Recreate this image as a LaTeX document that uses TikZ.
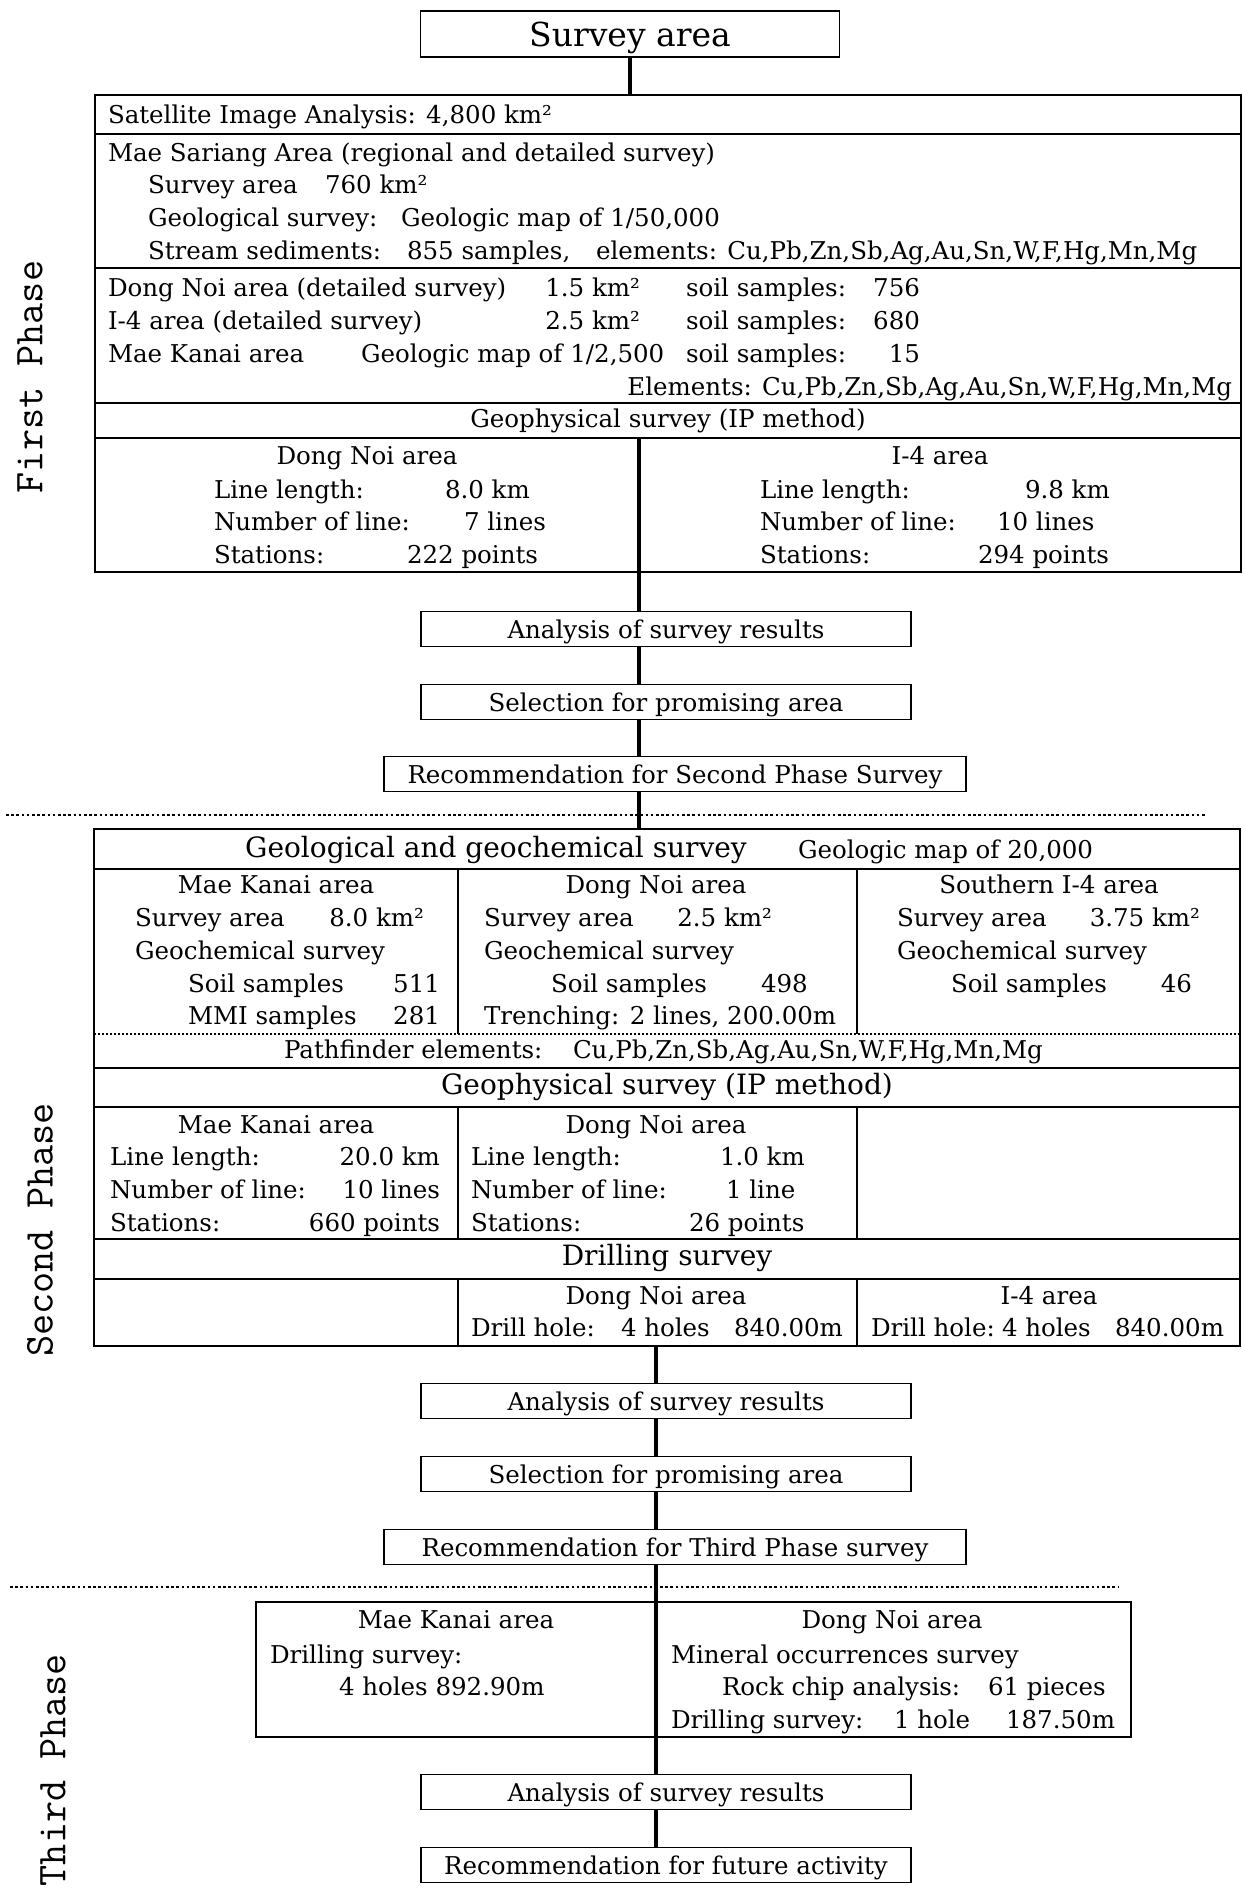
\documentclass[tikz,border=0pt]{standalone}
\usepackage{fontspec}
\setmainfont{DejaVu Serif}
\newcommand\txtfnt{\fontsize{24.5}{30}\selectfont}
\newcommand\hdfnt{\fontsize{28}{32}\selectfont}
\newcommand\bigfnt{\fontsize{33}{36}\selectfont}
\begin{document}
\begin{tikzpicture}[x=1pt,y=-1pt,
  frame/.style={draw, line width=1.8pt, inner sep=0pt, outer sep=0pt, anchor=north west},
  flow/.style={draw, line width=1.8pt, inner sep=0pt, outer sep=0pt, font=\txtfnt, text height=18pt, text depth=0pt, minimum width=490pt, minimum height=35pt},
  tx/.style={inner sep=0pt, outer sep=0pt, font=\txtfnt, anchor=mid west, yshift=-4pt},
  txc/.style={tx, anchor=mid},
  txe/.style={tx, anchor=mid east},
  hd/.style={inner sep=0pt, outer sep=0pt, font=\hdfnt, anchor=mid, yshift=-4pt},
  conn/.style={line width=3.4pt},
  sepl/.style={line width=1.6pt},
  coldiv/.style={line width=2pt},
  dotsep/.style={line width=1.4pt, dash pattern=on 2pt off 2pt},
  phasedots/.style={line width=2.6pt, dash pattern=on 2.6pt off 2.6pt},
  phase/.style={rotate=90, inner sep=0pt, outer sep=0pt, font=\ttfamily\fontsize{41}{41}\selectfont}
]
\useasboundingbox (0,0) rectangle (1245,1888);

% ---------- phase labels ----------
\node[phase] (ph1) at (30,377) {First Phase};
\node[phase] (ph2) at (40,1230) {Second Phase};
\node[phase] (ph3) at (53,1770) {Third Phase};

% ---------- top ----------
\node[draw, line width=1.8pt, inner sep=0pt, outer sep=0pt, minimum width=419pt, minimum height=46pt, text height=24pt, text depth=0pt, font=\bigfnt] (survey) at (630,34) {Survey area};

% ---------- first phase box ----------
\node[frame, minimum width=1146pt, minimum height=477pt] (box1) at (95,95) {};
\draw[sepl] (95,134) -- (1241,134);
\draw[sepl] (95,268) -- (1241,268);
\draw[sepl] (95,403) -- (1241,403);
\draw[sepl] (95,438) -- (1241,438);
\coordinate (k1) at (639,438);

\node[tx] (s1) at (108,117) {Satellite Image Analysis: 4,800 km²};
\node[tx] (s2) at (108,155) {Mae Sariang Area (regional and detailed survey)};
\node[tx] (s3a) at (148,187) {Survey area};
\node[tx] (s3b) at (325,187) {760 km²};
\node[tx] (s4a) at (148,220) {Geological survey:};
\node[tx] (s4b) at (401,220) {Geologic map of 1/50,000};
\node[tx] (s5a) at (148,253) {Stream sediments:};
\node[tx] (s5b) at (407,253) {855 samples,};
\node[tx] (s5c) at (596,253) {elements: Cu,Pb,Zn,Sb,Ag,Au,Sn,W,F,Hg,Mn,Mg};

\node[tx] (d1a) at (108,290) {Dong Noi area (detailed survey)};
\node[txe] (d1b) at (640,290) {1.5 km²};
\node[tx] (d1c) at (686,290) {soil samples:};
\node[txe] (d1d) at (920,290) {756};
\node[tx] (d2a) at (108,323) {I-4 area (detailed survey)};
\node[txe] (d2b) at (640,323) {2.5 km²};
\node[tx] (d2c) at (686,323) {soil samples:};
\node[txe] (d2d) at (920,323) {680};
\node[tx] (d3a) at (108,356) {Mae Kanai area};
\node[tx] (d3b) at (361,356) {Geologic map of 1/2,500};
\node[tx] (d3c) at (686,356) {soil samples:};
\node[txe] (d3d) at (920,356) {15};
\node[txe] (d4) at (1232,389) {Elements: Cu,Pb,Zn,Sb,Ag,Au,Sn,W,F,Hg,Mn,Mg};

\node[txc] (g1) at (668,421) {Geophysical survey (IP method)};
\node[txc] (l1) at (367,458) {Dong Noi area};
\node[tx] (l2a) at (214,492) {Line length:};
\node[tx] (l2b) at (445,492) {8.0 km};
\node[tx] (l3a) at (214,524) {Number of line:};
\node[tx] (l3b) at (464,524) {7 lines};
\node[tx] (l4a) at (214,557) {Stations:};
\node[tx] (l4b) at (407,557) {222 points};
\node[txc] (r1) at (940,458) {I-4 area};
\node[tx] (r2a) at (760,492) {Line length:};
\node[tx] (r2b) at (1025,492) {9.8 km};
\node[tx] (r3a) at (760,524) {Number of line:};
\node[tx] (r3b) at (997,524) {10 lines};
\node[tx] (r4a) at (760,557) {Stations:};
\node[tx] (r4b) at (978,557) {294 points};

% ---------- first phase flow ----------
\node[flow] (ana1) at (666,629) {Analysis of survey results};
\node[flow] (sel1) at (666,702) {Selection for promising area};
\node[flow, minimum width=582pt] (rec1) at (675,774) {Recommendation for Second Phase Survey};

\draw[phasedots] (6,815) -- (1207,815);

% ---------- second phase box ----------
\node[frame, minimum width=1146pt, minimum height=517pt] (box2) at (94,829) {};
\draw[sepl] (94,869) -- (1240,869);
\draw[dotsep] (94,1034) -- (1240,1034);
\draw[sepl] (94,1068) -- (1240,1068);
\draw[sepl] (94,1107) -- (1240,1107);
\draw[sepl] (94,1239) -- (1240,1239);
\draw[sepl] (94,1279) -- (1240,1279);
\draw[coldiv] (458,869) -- (458,1034);
\draw[coldiv] (857,869) -- (857,1034);
\draw[coldiv] (458,1107) -- (458,1239);
\draw[coldiv] (857,1107) -- (857,1239);
\draw[coldiv] (458,1279) -- (458,1346);
\draw[coldiv] (857,1279) -- (857,1346);

\node[hd] (h1) at (496,851) {Geological and geochemical survey};
\node[tx] (h1b) at (798,852) {Geologic map of 20,000};

\node[txc] (a1) at (276,887) {Mae Kanai area};
\node[tx] (a2a) at (135,920) {Survey area};
\node[txe] (a2b) at (424,920) {8.0 km²};
\node[tx] (a3) at (135,953) {Geochemical survey};
\node[tx] (a4a) at (188,986) {Soil samples};
\node[txe] (a4b) at (440,986) {511};
\node[tx] (a5a) at (188,1018) {MMI samples};
\node[txe] (a5b) at (440,1018) {281};

\node[txc] (b1) at (656,887) {Dong Noi area};
\node[tx] (b2a) at (484,920) {Survey area};
\node[txe] (b2b) at (772,920) {2.5 km²};
\node[tx] (b3) at (484,953) {Geochemical survey};
\node[tx] (b4a) at (551,986) {Soil samples};
\node[tx] (b4b) at (761,986) {498};
\node[tx] (b5) at (484,1018) {Trenching: 2 lines, 200.00m};

\node[txc] (c1) at (1049,887) {Southern I-4 area};
\node[tx] (c2a) at (897,920) {Survey area};
\node[txe] (c2b) at (1200,920) {3.75 km²};
\node[tx] (c3) at (897,953) {Geochemical survey};
\node[tx] (c4a) at (951,986) {Soil samples};
\node[txe] (c4b) at (1192,986) {46};

\node[tx] (p1a) at (284,1052) {Pathfinder elements:};
\node[tx] (p1b) at (573,1052) {Cu,Pb,Zn,Sb,Ag,Au,Sn,W,F,Hg,Mn,Mg};

\node[hd] (h2) at (667,1088) {Geophysical survey (IP method)};

\node[txc] (e1) at (276,1127) {Mae Kanai area};
\node[tx] (e2a) at (110,1159) {Line length:};
\node[txe] (e2b) at (440,1159) {20.0 km};
\node[tx] (e3a) at (110,1192) {Number of line:};
\node[txe] (e3b) at (440,1192) {10 lines};
\node[tx] (e4a) at (110,1225) {Stations:};
\node[txe] (e4b) at (440,1225) {660 points};

\node[txc] (f1) at (656,1127) {Dong Noi area};
\node[tx] (f2a) at (471,1159) {Line length:};
\node[tx] (f2b) at (720,1159) {1.0 km};
\node[tx] (f3a) at (471,1192) {Number of line:};
\node[tx] (f3b) at (726,1192) {1 line};
\node[tx] (f4a) at (471,1225) {Stations:};
\node[tx] (f4b) at (689,1225) {26 points};

\node[hd] (h3) at (667,1259) {Drilling survey};

\node[txc] (g2) at (656,1298) {Dong Noi area};
\node[tx] (g3a) at (471,1330) {Drill hole:};
\node[tx] (g3b) at (621,1330) {4 holes};
\node[tx] (g3c) at (734,1330) {840.00m};
\node[txc] (g4) at (1049,1298) {I-4 area};
\node[tx] (g5a) at (871,1330) {Drill hole:};
\node[tx] (g5b) at (1002,1330) {4 holes};
\node[txe] (g5c) at (1224,1330) {840.00m};
\coordinate (k2) at (656,1346);

% ---------- second phase flow ----------
\node[flow] (ana2) at (666,1401) {Analysis of survey results};
\node[flow] (sel2) at (666,1474) {Selection for promising area};
\node[flow, minimum width=582pt] (rec2) at (675,1547) {Recommendation for Third Phase survey};

\draw[phasedots] (10,1587) -- (1119,1587);

% ---------- third phase box ----------
\node[frame, minimum width=875pt, minimum height=135pt] (box3) at (256,1602) {};
\node[txc] (t1) at (456,1622) {Mae Kanai area};
\node[tx] (t2) at (270,1657) {Drilling survey:};
\node[tx] (t3) at (339,1689) {4 holes 892.90m};
\node[txc] (u1) at (892,1622) {Dong Noi area};
\node[tx] (u2) at (671,1657) {Mineral occurrences survey};
\node[tx] (u3a) at (722,1689) {Rock chip analysis:};
\node[tx] (u3b) at (988,1689) {61 pieces};
\node[tx] (u4a) at (671,1722) {Drilling survey:};
\node[tx] (u4b) at (894,1722) {1 hole};
\node[txe] (u4c) at (1115,1722) {187.50m};

\node[flow] (ana3) at (666,1792) {Analysis of survey results};
\node[flow] (rec3) at (666,1865) {Recommendation for future activity};

% ---------- connectors ----------
\draw[conn] (survey.south) -- (survey.south |- box1.north);
\draw[conn] (k1) -- (k1 |- box1.south);
\draw[conn] (k1 |- box1.south) -- (k1 |- ana1.north);
\draw[conn] (k1 |- ana1.south) -- (k1 |- sel1.north);
\draw[conn] (k1 |- sel1.south) -- (k1 |- rec1.north);
\draw[conn] (k1 |- rec1.south) -- (k1 |- box2.north);
\draw[conn] (k2) -- (k2 |- ana2.north);
\draw[conn] (k2 |- ana2.south) -- (k2 |- sel2.north);
\draw[conn] (k2 |- sel2.south) -- (k2 |- rec2.north);
\draw[conn] (k2 |- rec2.south) -- (k2 |- box3.north);
\draw[conn] (k2 |- box3.north) -- (k2 |- box3.south);
\draw[conn] (k2 |- box3.south) -- (k2 |- ana3.north);
\draw[conn] (k2 |- ana3.south) -- (k2 |- rec3.north);
\end{tikzpicture}
\end{document}
